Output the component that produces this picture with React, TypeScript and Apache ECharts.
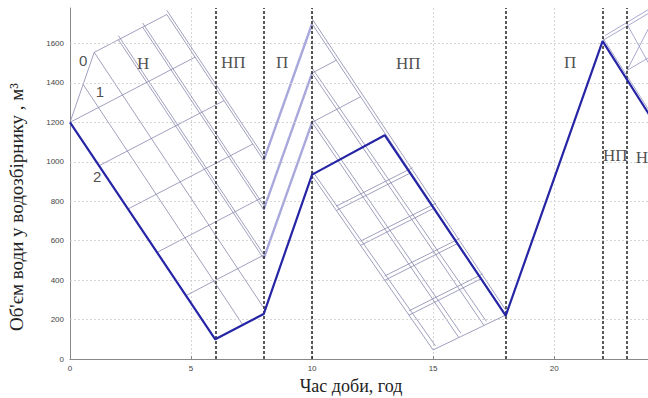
import React, { useEffect, useRef } from "react";
import * as echarts from "echarts";

// Main schedule (line 2)
const hours = [0, 6, 8, 10, 13, 18, 22, 24];
const volume2 = [1200, 100, 228, 935, 1135, 220, 1612, 1225];

// Axis ticks
const yTicks = [0, 200, 400, 600, 800, 1000, 1200, 1400, 1600];
const xTicks = [0, 5, 10, 15, 20];
const zoneBounds = [6, 8, 10, 18, 22, 23];

// Line 0 (start)
const line0 = [[0, 1200, 1, 1555]];

// Net segments [x1, y1, x2, y2]
const netA = [
  [1, 1555, 4, 1747],
  [1, 1555, 8, 260],
  [2, 1619, 8, 509],
  [3, 1683, 8, 758],
  [4, 1747, 8, 1007],
  [0.54, 1393, 7.14, 173],
  [0, 1200, 5.17, 1531],
  [1.2, 980, 6.36, 1310],
  [2.4, 761, 7.55, 1090],
  [3.6, 541, 8, 823],
  [4.8, 322, 8, 527],
];
const netADouble = [
  [2, 1640, 8, 530],
  [3, 1704, 8, 779],
  [4, 1768, 8, 1028],
];
const riseB = [
  [8, 1007, 10, 1700],
  [8, 758, 10, 1450],
  [8, 509, 10, 1200],
];
const netC = [
  [10, 1700, 18, 223],
  [10, 1450, 17.1, 170],
  [10, 1200, 16.06, 109],
  [10, 930, 15, 46],
  [10, 1450, 11, 1515],
  [10, 1200, 12, 1330],
  [11, 753, 14.09, 945],
  [12, 576, 15.06, 766],
  [13, 399, 16.03, 587],
  [14, 222, 17.0, 408],
  [15, 46, 18, 223],
];
const netCDouble = [
  [10, 1725, 18, 248],
  [10, 1475, 17.2, 190],
  [10, 1225, 16.15, 130],
  [10, 955, 15.1, 66],
  [11, 775, 14.15, 970],
  [12, 598, 15.12, 790],
  [13, 421, 16.1, 612],
  [14, 244, 17.05, 432],
];
const netD = [
  [22, 1615, 24, 1760],
  [22.1, 1640, 24, 1780],
  [23, 1463, 24, 1535],
  [23, 1700, 24, 1478],
  [23, 1463, 24, 1700],
  [22, 1630, 24, 1245],
];

// Labels [text, x, y]
const zoneLabels: [string, number, number][] = [
  ["Н", 3.02, 1501],
  ["НП", 6.74, 1506],
  ["П", 8.76, 1506],
  ["НП", 13.97, 1501],
  ["П", 20.66, 1506],
  ["НП", 22.52, 1034],
  ["Н", 23.62, 1024],
];
const lineLabels: [string, number, number][] = [
  ["0", 0.54, 1516],
  ["1", 1.24, 1359],
  ["2", 1.12, 923],
];

const toLines = (segs: number[][]) =>
  segs.map((s) => ({ coords: [[s[0], s[1]], [s[2], s[3]]] }));

export default function App() {
  const ref = useRef<HTMLDivElement>(null);
  useEffect(() => {
    if (!ref.current) return;
    const chart = echarts.init(ref.current, null, { renderer: "svg" });
    const netStyle = { color: "#8888ae", width: 0.8, opacity: 1 };
    const linesSeries = (segs: number[][], style: any, z = 2) => ({
      type: "lines",
      coordinateSystem: "cartesian2d",
      polyline: false,
      silent: true,
      z,
      lineStyle: style,
      effect: { show: false },
      data: toLines(segs),
    });
    chart.setOption({
      animation: false,
      grid: { left: 70, right: -3, top: 8, bottom: 39, containLabel: false, outerBoundsMode: "none" },
      xAxis: {
        type: "value",
        min: 0,
        max: 24,
        interval: 5,
        axisLine: { lineStyle: { color: "#888", width: 1 } },
        axisTick: { inside: true, length: 3, lineStyle: { color: "#888" } },
        axisLabel: {
          color: "#444",
          fontSize: 8,
          fontFamily: "Liberation Sans",
          margin: 5,
          formatter: (v: number) => (xTicks.indexOf(v) >= 0 ? String(v) : ""),
        },
        splitLine: { show: true, lineStyle: { color: "#ccc", type: [2, 2], width: 0.8 } },
      },
      yAxis: {
        type: "value",
        min: 0,
        max: 1780,
        interval: 200,
        axisLine: { show: true, lineStyle: { color: "#888", width: 1 } },
        axisTick: { show: false },
        axisLabel: {
          color: "#444",
          fontSize: 8,
          fontFamily: "Liberation Sans",
          margin: 6,
          formatter: (v: number) => (yTicks.indexOf(v) >= 0 ? String(v) : ""),
        },
        splitLine: { show: false },
      },
      graphic: [
        {
          type: "text",
          x: 16,
          y: 207,
          rotation: Math.PI / 2,
          style: {
            text: "Об'єм води у водозбірнику , м³",
            fontSize: 19,
            fontFamily: "Liberation Serif",
            fill: "#222",
            align: "center",
            verticalAlign: "middle",
            textAlign: "center",
            textVerticalAlign: "middle",
          },
        },
        {
          type: "text",
          x: 351,
          y: 386,
          style: {
            text: "Час доби, год",
            fontSize: 18,
            fontFamily: "Liberation Serif",
            fill: "#222",
            align: "center",
            verticalAlign: "middle",
            textAlign: "center",
            textVerticalAlign: "middle",
          },
        },
      ],
      series: [
        {
          type: "line",
          data: [[0, 0]],
          symbol: "none",
          lineStyle: { opacity: 0 },
          silent: true,
          z: 1,
          markLine: {
            silent: true,
            symbol: "none",
            label: { show: false },
            lineStyle: { color: "#ccc", type: [2, 2], width: 0.8 },
            data: yTicks.slice(1).map((v) => ({ yAxis: v })),
          },
        },
        linesSeries(netA, netStyle),
        linesSeries(netADouble, netStyle),
        linesSeries(netC, netStyle),
        linesSeries(netCDouble, netStyle),
        linesSeries(riseB, { color: "#a8a8dc", width: 2.4, opacity: 1 }),
        linesSeries(netD, { color: "#a0a0cc", width: 0.9, opacity: 1 }),
        linesSeries(line0, netStyle),
        {
          type: "line",
          data: [[0, 0]],
          symbol: "none",
          lineStyle: { opacity: 0 },
          silent: true,
          z: 4,
          markLine: {
            silent: true,
            symbol: "none",
            label: { show: false },
            lineStyle: { color: "#222", type: [3, 2], width: 1.5 },
            data: zoneBounds.map((v) => ({ xAxis: v })),
          },
        },
        {
          type: "line",
          data: hours.map((h, i) => [h, volume2[i]]),
          symbol: "none",
          z: 5,
          lineStyle: { color: "#2525a6", width: 2.2 },
        },
        {
          type: "scatter",
          symbolSize: 0,
          silent: true,
          z: 6,
          data: zoneLabels.map((l) => ({ name: l[0], value: [l[1], l[2]] })),
          label: {
            show: true,
            position: "inside",
            formatter: (p: any) => p.name,
            fontSize: 17,
            fontFamily: "Liberation Serif",
            color: "#222",
          },
        },
        {
          type: "scatter",
          symbolSize: 0,
          silent: true,
          z: 6,
          data: lineLabels.map((l) => ({ name: l[0], value: [l[1], l[2]] })),
          label: {
            show: true,
            position: "inside",
            formatter: (p: any) => p.name,
            fontSize: 15,
            fontFamily: "Liberation Sans",
            color: "#222",
          },
        },
      ],
    });
    return () => chart.dispose();
  }, []);
  return <div ref={ref} style={{ width: 648, height: 398, position: "absolute", left: 0, top: 0 }} />;
}
